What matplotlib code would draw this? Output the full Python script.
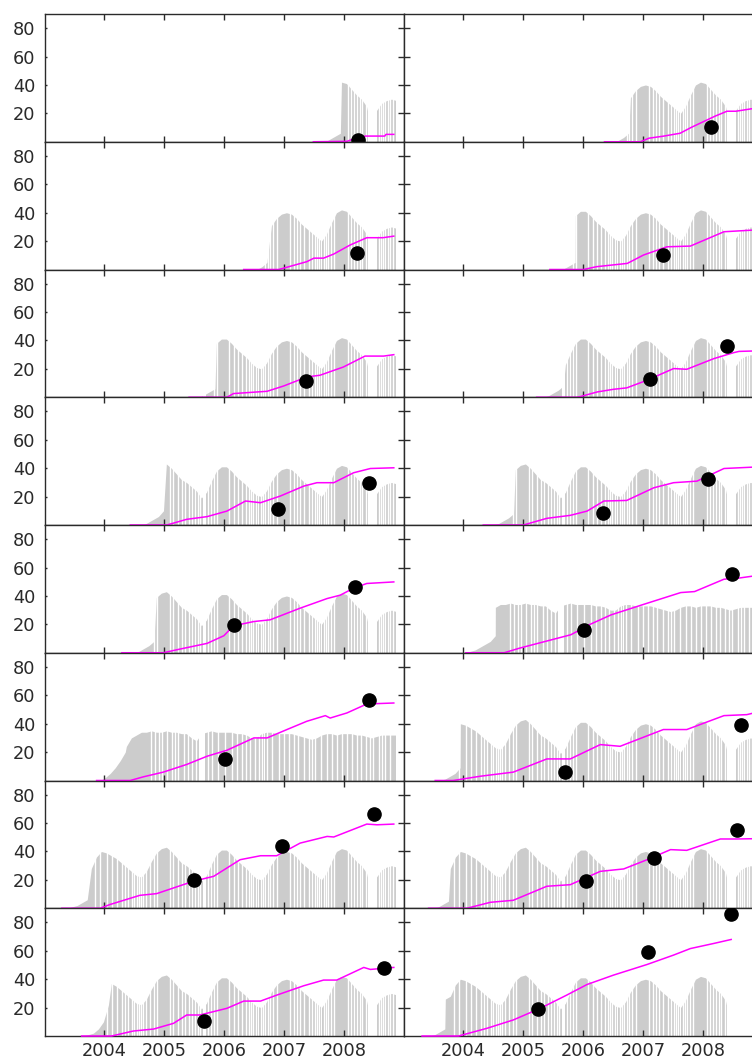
import numpy as np
import matplotlib.pyplot as plt

# monthly mid points, Jan 2003 .. Dec 2008
months = 2003 + (np.arange(72) + 0.5) / 12

# gray potential curve, site A (seasonal humps) and site B (plateau), monthly envelope
site_a = [40, 37, 33, 30, 27, 24, 21, 23, 26, 28, 36, 40,
          39, 37, 35, 32, 29, 26, 23, 22, 26, 33, 39, 42,
          43, 40, 36, 32, 30, 27, 24, 19, 23, 31, 38, 41,
          41, 38, 34, 31, 28, 24, 21, 20, 24, 31, 36, 39,
          40, 39, 36, 32, 29, 26, 23, 20, 25, 33, 40, 42,
          41, 37, 33, 30, 25, 10, 22, 27, 29, 30, 29, 29]
site_b = [0, 0, 0, 0, 0, 0, 0, 0, 0, 0, 0, 0,
          10, 14, 18, 21, 24, 30, 32, 34, 34, 35, 34, 34,
          35, 34, 34, 33, 33, 30, 28, 33, 34, 35, 34, 34,
          34, 34, 33, 33, 32, 30, 30, 33, 34, 34, 33, 33,
          33, 33, 32, 31, 30, 29, 30, 32, 33, 33, 32, 33,
          33, 33, 32, 32, 31, 30, 31, 32, 32, 32, 32, 32]
slits_a = [2003.86, 2003.93, 2004.05, 2004.14, 2004.22, 2004.30, 2004.36, 2004.41, 2004.47, 2004.51,
           2004.55, 2004.58, 2004.62, 2004.66, 2004.71, 2004.77, 2004.83, 2004.88,
           2005.10, 2005.16, 2005.24, 2005.30, 2005.36, 2005.42, 2005.47, 2005.52, 2005.57, 2005.61,
           2005.74, 2005.78, 2005.83, 2005.88,
           2006.08, 2006.16, 2006.23, 2006.30, 2006.36, 2006.41, 2006.45, 2006.49, 2006.53, 2006.61,
           2006.65, 2006.69, 2006.73, 2006.77, 2006.82, 2006.88,
           2007.10, 2007.16, 2007.22, 2007.27, 2007.34, 2007.41, 2007.46, 2007.52, 2007.55, 2007.58,
           2007.66, 2007.70, 2007.74, 2007.79, 2007.83,
           2008.07, 2008.11, 2008.17, 2008.22, 2008.26, 2008.30, 2008.36,
           2008.58, 2008.61, 2008.65, 2008.69, 2008.73, 2008.77, 2008.81]
slits_b = [2004.78, 2004.86, 2004.92, 2004.97, 2005.05, 2005.13, 2005.19, 2005.24, 2005.33, 2005.41,
           2005.47, 2005.53, 2005.74, 2005.80, 2005.91, 2006.02, 2006.13, 2006.22, 2006.30,
           2006.37, 2006.44, 2006.51, 2006.58, 2006.63, 2006.72, 2006.80, 2006.91, 2007.00, 2007.08,
           2007.16, 2007.24, 2007.33, 2007.41, 2007.47, 2007.52, 2007.61, 2007.72, 2007.80, 2007.88,
           2007.97, 2008.05, 2008.13, 2008.22, 2008.29, 2008.36, 2008.43, 2008.49, 2008.58, 2008.64,
           2008.69, 2008.76]
gaps_a = [(2005.65, 2005.70), (2006.56, 2006.59), (2007.61, 2007.64), (2008.40, 2008.55)]
gaps_b = [(2005.58, 2005.68), (2006.66, 2006.69)]

# per panel (row-major, 8 rows x 2 columns)
gray_site = ['a', 'a', 'a', 'a', 'a', 'a', 'a', 'a', 'a', 'b', 'b', 'a', 'a', 'a', 'a', 'a']
gray_start = [2007.69, 2006.51, 2006.55, 2005.62, 2005.60, 2005.34, 2004.66, 2004.51,
              2004.50, 2004.04, 2003.94, 2003.62, 2003.39, 2003.51, 2003.66, 2003.45]
gray_ramp = [[0, 2, 4, 6], [0, 1, 3, 6], [0, 2, 5], [0, 1, 3, 5],
             [0, 2, 4, 6], [0, 1, 3, 5, 8], [0, 2, 4, 6, 10], [0, 1, 3, 5, 8],
             [0, 1, 3, 5, 8], [0, 1, 2, 4, 6, 8, 12], [0, 2, 5, 9, 14, 20], [0, 1, 3, 5, 9],
             [0, 1, 2, 4, 6], [0, 1, 3, 5], [0, 1, 2, 5, 10, 22], [0, 1, 3, 5]]
gray_end = [2008.86, 2008.95, 2008.86, 2008.95, 2008.86, 2008.95, 2008.86, 2008.95,
            2008.86, 2008.95, 2008.86, 2008.95, 2008.86, 2008.95, 2008.86, 2008.43]

growth_t = [
    [2007.49, 2008.05, 2008.20, 2008.36, 2008.68, 2008.70, 2008.83],
    [2006.36, 2006.96, 2007.10, 2007.35, 2007.62, 2007.80, 2008.00, 2008.20, 2008.40, 2008.55, 2008.85],
    [2006.33, 2006.91, 2007.00, 2007.38, 2007.50, 2007.66, 2007.83, 2008.10, 2008.38, 2008.65, 2008.83],
    [2005.45, 2006.01, 2006.23, 2006.74, 2007.01, 2007.40, 2007.79, 2008.35, 2008.85],
    [2005.42, 2006.05, 2006.16, 2006.72, 2007.00, 2007.38, 2007.60, 2007.99, 2008.35, 2008.66, 2008.83],
    [2005.23, 2005.90, 2005.96, 2006.24, 2006.51, 2006.73, 2007.07, 2007.51, 2007.73, 2008.18, 2008.51, 2008.60, 2008.85],
    [2004.44, 2005.05, 2005.38, 2005.72, 2006.05, 2006.36, 2006.61, 2006.94, 2007.33, 2007.55, 2007.83, 2008.16, 2008.44, 2008.83],
    [2004.34, 2005.01, 2005.40, 2005.79, 2006.07, 2006.35, 2006.73, 2007.18, 2007.51, 2007.90, 2008.35, 2008.85],
    [2004.30, 2004.99, 2005.27, 2005.72, 2006.00, 2006.16, 2006.50, 2006.77, 2007.27, 2007.72, 2007.94, 2008.16, 2008.38, 2008.83],
    [2004.05, 2004.69, 2004.95, 2005.52, 2005.80, 2006.13, 2006.47, 2007.02, 2007.63, 2007.86, 2008.35, 2008.58, 2008.85],
    [2003.88, 2004.44, 2004.66, 2004.99, 2005.38, 2005.72, 2006.05, 2006.50, 2006.72, 2007.05, 2007.38, 2007.69, 2007.77, 2008.05, 2008.38, 2008.83],
    [2003.54, 2003.84, 2004.29, 2004.84, 2005.40, 2005.79, 2006.29, 2006.62, 2007.34, 2007.73, 2008.35, 2008.73, 2008.85],
    [2003.30, 2003.94, 2004.10, 2004.60, 2004.88, 2005.49, 2005.83, 2006.27, 2006.61, 2006.88, 2007.27, 2007.72, 2007.83, 2008.38, 2008.55, 2008.83],
    [2003.43, 2004.07, 2004.46, 2004.84, 2005.40, 2005.79, 2006.29, 2006.68, 2007.07, 2007.46, 2007.73, 2008.29, 2008.57, 2008.85],
    [2003.63, 2004.13, 2004.49, 2004.83, 2005.16, 2005.38, 2005.60, 2006.05, 2006.33, 2006.61, 2006.88, 2007.33, 2007.66, 2007.88, 2008.33, 2008.44, 2008.83],
    [2003.32, 2003.93, 2004.40, 2004.84, 2005.29, 2005.73, 2006.07, 2006.51, 2007.07, 2007.51, 2007.79, 2008.18, 2008.47],
]
growth_v = [
    [0, 0.3, 2.5, 4.0, 4.0, 5.2, 5.2],
    [0, 0, 2.5, 4, 6, 10, 14, 18, 21.5, 21.5, 23.5],
    [0, 0, 1, 5.5, 8, 8, 10.9, 17.2, 22.4, 22.4, 23.5],
    [0, 0, 2, 4.3, 10.2, 16, 16.5, 26.6, 27.8],
    [0, 0, 2.6, 4.2, 8, 14.3, 15.5, 21.3, 29, 29, 30],
    [0, 0, 0.5, 3.75, 5.6, 6.6, 12, 20.2, 19.7, 27.2, 31.4, 32.3, 32.6],
    [0, 0, 4, 5.9, 9.8, 16.9, 15.7, 20.4, 27.4, 29.8, 29.8, 36.8, 39.8, 40.3],
    [0, 0, 4.7, 6.8, 9.8, 16.9, 17.3, 26.2, 29.8, 30.9, 39.8, 40.8],
    [0, 0, 2.6, 6.6, 12, 19, 22, 23.2, 31.4, 38.2, 40.6, 45.5, 48.8, 49.9],
    [0, 0, 3.3, 9.6, 12.7, 20.2, 26.7, 34.2, 42.4, 43.1, 51.8, 52.5, 54.1],
    [0, 0, 2.6, 5.9, 11.3, 17.1, 21.3, 30, 30, 35.9, 41.7, 45.7, 44, 47.6, 53.9, 54.6],
    [0, 0, 3, 5.9, 15.2, 15.2, 25.3, 24.1, 35.9, 35.9, 45.7, 46.4, 47.6],
    [0, 0, 2.6, 9.1, 10.3, 19, 22.5, 34.2, 37, 37, 45.9, 50.6, 50.2, 59.3, 58.8, 59.3],
    [0, 0, 4.2, 5.6, 15.5, 16.6, 26, 27.7, 34.2, 41.3, 40.8, 48.8, 48.8, 49],
    [0, 0, 3.5, 4.9, 8.9, 14.8, 14.8, 19.5, 24.6, 24.6, 28.8, 35.4, 39.4, 39.4, 48.3, 46.9, 48.3],
    [0, 0, 5.4, 11.3, 19.5, 28.8, 36.3, 42.9, 50.4, 57, 61.6, 65.2, 68],
]
obs_t = [[2008.23], [2008.14], [2008.22], [2007.33], [2007.36], [2007.11, 2008.40], [2006.90, 2008.41],
         [2006.33, 2008.08], [2006.17, 2008.19], [2006.02, 2008.48], [2006.02, 2008.41], [2005.70, 2008.64],
         [2005.51, 2006.97, 2008.50], [2006.05, 2007.19, 2008.56], [2005.67, 2008.67], [2005.25, 2007.08, 2008.47]]
obs_v = [[1.5], [10.1], [11.4], [10.2], [11.2], [13.1, 35.9], [11.0, 29.8],
         [8.2, 32.6], [19.5, 46.6], [15.9, 55.3], [15.2, 57.0], [5.9, 39.4],
         [20.2, 43.6, 66.6], [19.0, 35.4, 55.3], [10.5, 47.6], [18.8, 59.3, 85.6]]

years = [2004, 2005, 2006, 2007, 2008]
yticks = [20, 40, 60, 80]

W, H = 752, 1061
col_left = [45, 404]
panel_w = 359
panel_top = 14
panel_h = 127.75
ink = '#2a2a2a'

fig = plt.figure(figsize=(W / 100, H / 100), dpi=100)

for i in range(16):
    row, col = divmod(i, 2)
    y0 = H - (panel_top + (row + 1) * panel_h)
    ax = fig.add_axes([col_left[col] / W, y0 / H, panel_w / W, panel_h / H])

    if gray_site[i] == 'a':
        site, slits, gaps = site_a, slits_a, gaps_a
    else:
        site, slits, gaps = site_b, slits_b, gaps_b
    ramp = np.array(gray_ramp[i], dtype=float)
    rt = gray_start[i] + np.arange(len(ramp)) / 12
    keep = months > rt[-1]
    gt = np.concatenate([rt, months[keep]])
    gv = np.concatenate([ramp, np.array(site, dtype=float)[keep]])
    ax.fill_between(gt, 0, gv, color='#cccccc', lw=0, zorder=1)
    sl = [s for s in slits if s > rt[-1] - 0.05]
    ax.vlines(sl, 0, 90, color='white', lw=1.0, zorder=1.5)
    for a, b in gaps:
        ax.axvspan(a, b, color='white', lw=0, zorder=1.5)
    ax.axvspan(gray_end[i], 2010, color='white', lw=0, zorder=1.5)

    ax.plot(growth_t[i], growth_v[i], color='#ff00ff', lw=1.1, zorder=3, clip_on=False)
    ax.plot(obs_t[i], obs_v[i], 'o', color='black', ms=9.5, zorder=4)

    ax.set_xlim(2003.02, 2009.0)
    ax.set_ylim(0, 90)
    ax.set_xticks(years)
    ax.set_yticks(yticks)
    ax.tick_params(direction='in', top=True, right=True, length=4, width=1,
                   color=ink, labelcolor=ink, labelsize=12.8)
    ax.tick_params(axis='y', pad=7)
    ax.tick_params(axis='x', pad=4)
    ax.tick_params(labelleft=(col == 0), labelbottom=(row == 7))
    if col == 0:
        for t in ax.yaxis.get_major_ticks():
            t.tick1line.set_markersize(1.5)
    for sp in ax.spines.values():
        sp.set_color(ink)
        sp.set_linewidth(1.0)

fig.savefig('out.png', dpi=100)
